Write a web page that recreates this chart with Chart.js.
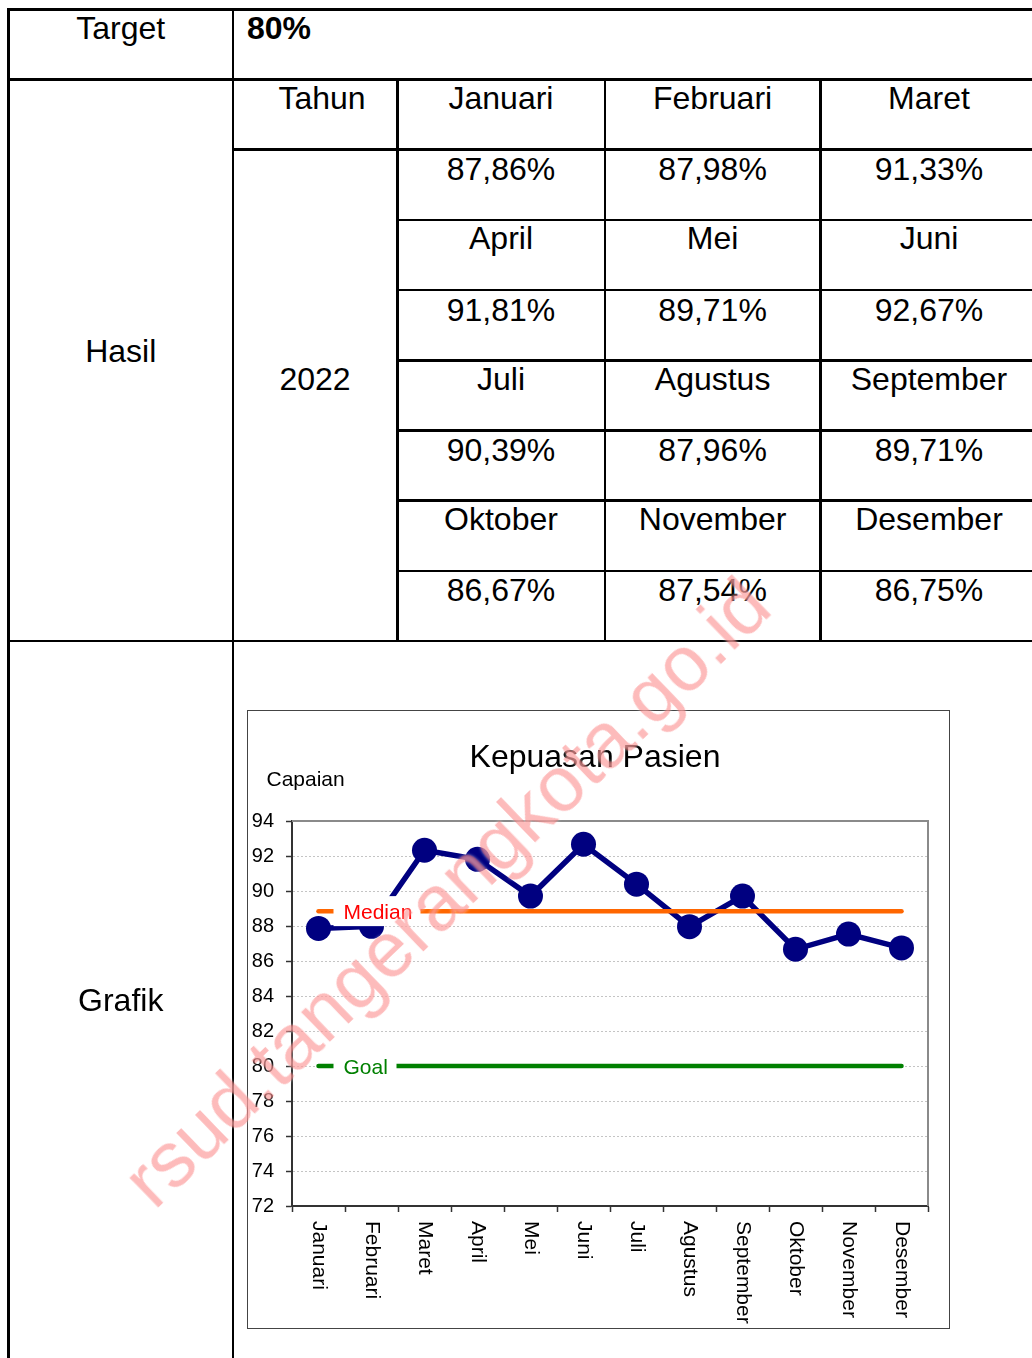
<!DOCTYPE html>
<html>
<head>
<meta charset="utf-8">
<script src="https://cdn.jsdelivr.net/npm/chart.js@4"></script>
<style>
html,body{margin:0;padding:0;background:#fff;}
body{width:1032px;height:1358px;overflow:hidden;position:relative;font-family:"Liberation Sans",Arial,sans-serif;}
.ln{position:absolute;background:#000;}
.t{position:absolute;font-size:32px;line-height:32px;white-space:nowrap;text-align:center;width:300px;color:#000;}
#box{position:absolute;left:247px;top:710px;width:701px;height:617px;border:1px solid #444;background:#fff;}
#wrap{position:absolute;left:0;top:0;width:701px;height:617px;}
#wm{position:absolute;left:446px;top:892px;transform:translate(-50%,-50%) rotate(-44deg);font-size:78px;line-height:78px;white-space:nowrap;color:rgba(250,45,45,0.32);text-shadow:0 0 3px rgba(255,255,255,0.6);pointer-events:none;z-index:10;}
</style>
</head>
<body>
<div id="box"><div id="wrap"><canvas id="c"></canvas></div></div>
<div id="wm">rsud.tangerangkota.go.id</div>
<script>
// ---- data ----
const months = ['Januari','Februari','Maret','April','Mei','Juni','Juli','Agustus','September','Oktober','November','Desember'];
const tableValues = ['87,86%','87,98%','91,33%','91,81%','89,71%','92,67%','90,39%','87,96%','89,71%','86,67%','87,54%','86,75%'];
const capaian = [87.86, 87.98, 92.33, 91.81, 89.71, 92.67, 90.39, 87.96, 89.71, 86.67, 87.54, 86.75];
const medianValue = 88.85;
const goalValue = 80;
const targetText = '80%';
const yearText = '2022';
const yMin = 72, yMax = 94, yStep = 2;

// ---- table layout ----
const rowLine = k => 9.3 + 70.2 * k;
function hline(y, x1, x2){ const d=document.createElement('div'); d.className='ln'; d.style.left=x1+'px'; d.style.width=(x2-x1)+'px'; d.style.top=(y-1.25)+'px'; d.style.height='2.5px'; document.body.appendChild(d); }
function vline(x, y1, y2){ const d=document.createElement('div'); d.className='ln'; d.style.left=(x-1.25)+'px'; d.style.width='2.5px'; d.style.top=y1+'px'; d.style.height=(y2-y1)+'px'; document.body.appendChild(d); }
function text(s, cx, base, bold, left){ const d=document.createElement('div'); d.className='t'; d.textContent=s; if(left){ d.style.left=cx+'px'; d.style.textAlign='left'; } else d.style.left=(cx-150)+'px'; d.style.top=(base-27)+'px'; if(bold) d.style.fontWeight='bold'; document.body.appendChild(d); }
const colX = [8.7, 232.8, 397.7, 605, 820.3];
const colC = [501, 712.6, 929];
hline(rowLine(0), 7.5, 1040); hline(rowLine(1), 7.5, 1040); hline(rowLine(2), colX[1], 1040);
for (let k = 3; k <= 8; k++) hline(rowLine(k), colX[2], 1040);
hline(rowLine(9), 7.5, 1040);
vline(colX[0], rowLine(0)-1.25, 1360); vline(colX[1], rowLine(0)-1.25, 1360);
vline(colX[2], rowLine(1), rowLine(9)); vline(colX[3], rowLine(1), rowLine(9)); vline(colX[4], rowLine(1), rowLine(9));
text('Target', 120.7, rowLine(0)+29.5);
text(targetText, 247, rowLine(0)+29.5, true, true);
text('Tahun', 322, rowLine(1)+29.5);
text('Hasil', 120.7, 362);
text(yearText, 315, rowLine(5)+30);
text('Grafik', 120.7, 1010.5);
for (let g = 0; g < 4; g++) {
  for (let j = 0; j < 3; j++) {
    text(months[g*3+j], colC[j], rowLine(1+2*g)+29.5);
    text(tableValues[g*3+j], colC[j], rowLine(2+2*g)+30.5);
  }
}

// ---- chart ----
const FONT = '"Liberation Sans", Arial, sans-serif';
const decor = {
  id: 'decor',
  beforeDatasetsDraw(chart) {
    const {ctx, chartArea: a} = chart;
    ctx.save();
    ctx.strokeStyle = '#8a8a8a'; ctx.lineWidth = 2;
    ctx.beginPath(); ctx.moveTo(a.left, a.top); ctx.lineTo(a.right, a.top); ctx.lineTo(a.right, a.bottom); ctx.stroke();
    ctx.restore();
  },
  afterDatasetsDraw(chart) {
    const {ctx} = chart; const xs = chart.scales.x, ys = chart.scales.y;
    const x0 = xs.getPixelForValue(0);
    [['Median', medianValue, '#FF0000', 87], ['Goal', goalValue, '#008000', 63]].forEach(([t, v, col, w]) => {
      const y = ys.getPixelForValue(v);
      ctx.save();
      ctx.fillStyle = '#fff'; ctx.fillRect(x0 + 15, y - 15, w, 30);
      ctx.fillStyle = col; ctx.font = '21px ' + FONT; ctx.textAlign = 'left'; ctx.textBaseline = 'alphabetic';
      ctx.fillText(t, x0 + 25, y + 7.5);
      ctx.restore();
    });
  },
  afterDraw(chart) {
    const {ctx, chartArea: a} = chart; const xs = chart.scales.x;
    ctx.save();
    ctx.fillStyle = '#000';
    ctx.font = '32px ' + FONT; ctx.textAlign = 'center'; ctx.textBaseline = 'alphabetic';
    ctx.fillText('Kepuasan Pasien', 347, 56);
    ctx.font = '21px ' + FONT; ctx.textAlign = 'left';
    ctx.fillText('Capaian', 18.5, 75);
    ctx.font = '21px ' + FONT; ctx.textBaseline = 'middle';
    months.forEach((m, i) => {
      const x = xs.getPixelForValue(i);
      ctx.save(); ctx.translate(x, a.bottom + 15); ctx.rotate(Math.PI / 2);
      ctx.fillText(m, 0, 0); ctx.restore();
    });
    ctx.restore();
  }
};

new Chart(document.getElementById('c'), {
  type: 'line',
  data: {
    labels: months,
    datasets: [
      { label: 'Median', data: months.map(() => medianValue), borderColor: '#FF6600', borderWidth: 4.5, pointRadius: 0, borderCapStyle: 'round', order: 1 },
      { label: 'Goal', data: months.map(() => goalValue), borderColor: '#008000', borderWidth: 4.5, pointRadius: 0, borderCapStyle: 'round', order: 2 },
      { label: 'Capaian', data: capaian, borderColor: '#000080', backgroundColor: '#000080', borderWidth: 5.5, pointRadius: 12.5, pointBackgroundColor: '#000080', pointBorderColor: '#000080', pointBorderWidth: 0, tension: 0, order: 3 }
    ]
  },
  options: {
    responsive: true, maintainAspectRatio: false, animation: false, devicePixelRatio: 1,
    layout: { padding: { top: 110, right: 21, bottom: 0, left: 0 } },
    plugins: { legend: { display: false }, tooltip: { enabled: false }, title: { display: false } },
    scales: {
      x: {
        type: 'category', offset: true,
        grid: { display: true, drawOnChartArea: false, drawTicks: true, tickLength: 6, offset: true, color: 'rgba(0,0,0,0)', tickColor: '#333', tickWidth: 1.5 },
        border: { display: true, color: '#333', width: 2 },
        ticks: { display: false },
        afterFit: s => { s.height = 122; }
      },
      y: {
        min: yMin, max: yMax,
        ticks: { stepSize: yStep, color: '#000', font: { size: 20, family: FONT }, padding: 12 },
        grid: { color: c => (c.tick && (c.tick.value === yMax || c.tick.value === yMin)) ? 'rgba(0,0,0,0)' : '#c4c4c4', lineWidth: 1, tickLength: 6, tickColor: '#333', tickWidth: 1.5 },
        border: { display: true, color: '#333', width: 2, dash: [2, 2] },
        afterFit: s => { s.width = 44; }
      }
    }
  },
  plugins: [decor]
});
</script>
</body>
</html>
